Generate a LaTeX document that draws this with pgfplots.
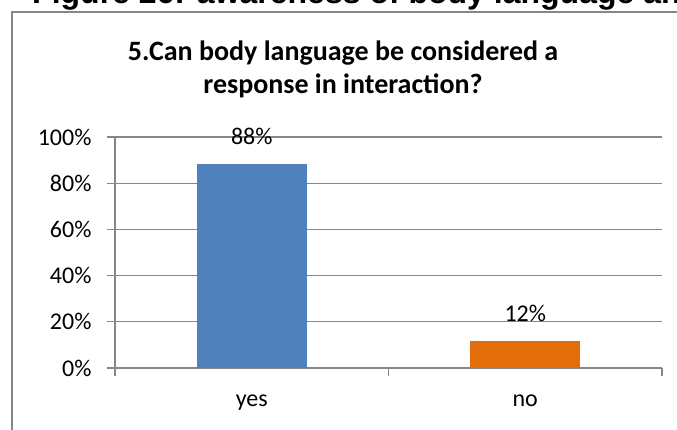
\documentclass[border=0pt]{standalone}
\usepackage{pgfplots}
\pgfplotsset{compat=1.18}
\usepackage{fontspec}
\setmainfont{Carlito}
\newfontfamily\arialfont{Liberation Sans}
\definecolor{excelblue}{RGB}{79,129,189}
\definecolor{excelorange}{RGB}{228,108,10}
\definecolor{gridgray}{RGB}{134,134,134}

\begin{document}
\begin{tikzpicture}[x=1pt,y=1pt]
\path[use as bounding box] (0,0) rectangle (677,429);
\clip (0,0) rectangle (677,429);
% caption of the page, cut off at the top
\node[anchor=base west, inner sep=0, font=\arialfont\bfseries\fontsize{32}{36}\selectfont]
  at (32,425) {Figure 26: awareness of body language and};
% chart frame
\draw[gridgray, line width=1.2pt] (12,-20) -- (12,417) -- (700,417);
% chart title
\node[anchor=base, inner sep=0, font=\bfseries\fontsize{28}{33}\selectfont]
  at (343,368) {5.Can body language be considered a};
\node[anchor=base, inner sep=0, font=\bfseries\fontsize{28}{33}\selectfont]
  at (343,335) {response in interaction?};
\begin{axis}[
  at={(115pt,61pt)}, anchor=south west,
  scale only axis, width=547pt, height=231pt,
  xmin=-0.5, xmax=1.5, ymin=0, ymax=100,
  axis x line*=bottom, axis y line*=left,
  axis line style={gridgray, line width=1.2pt},
  tick align=outside,
  major tick length=8pt, minor tick length=8pt,
  tick style={gridgray, line width=1.2pt},
  major x tick style={draw=none},
  xtick={0,1}, xticklabels={yes,no},
  minor xtick={-0.5,0.5,1.5},
  ytick={0,20,40,60,80,100},
  yticklabels={0\%,20\%,40\%,60\%,80\%,100\%},
  ymajorgrids, grid style={gridgray, line width=1.2pt},
  /pgf/number format/assume math mode=true,
  ticklabel style={font=\fontsize{24}{28}\selectfont, text=black},
  xticklabel style={anchor=base, yshift=-30pt},
  yticklabel style={xshift=-12pt},
  ybar, bar width=110pt,
  nodes near coords, point meta=explicit symbolic,
  nodes near coords style={anchor=south, inner sep=0, yshift=19pt,
    font=\fontsize{24}{28}\selectfont, text=black},
]
\addplot[ybar, bar shift=0pt, fill=excelblue, draw=none] coordinates {(0,88.4) [88\%]};
\addplot[ybar, bar shift=0pt, fill=excelorange, draw=none] coordinates {(1,11.6) [12\%]};
\end{axis}
\end{tikzpicture}
\end{document}
